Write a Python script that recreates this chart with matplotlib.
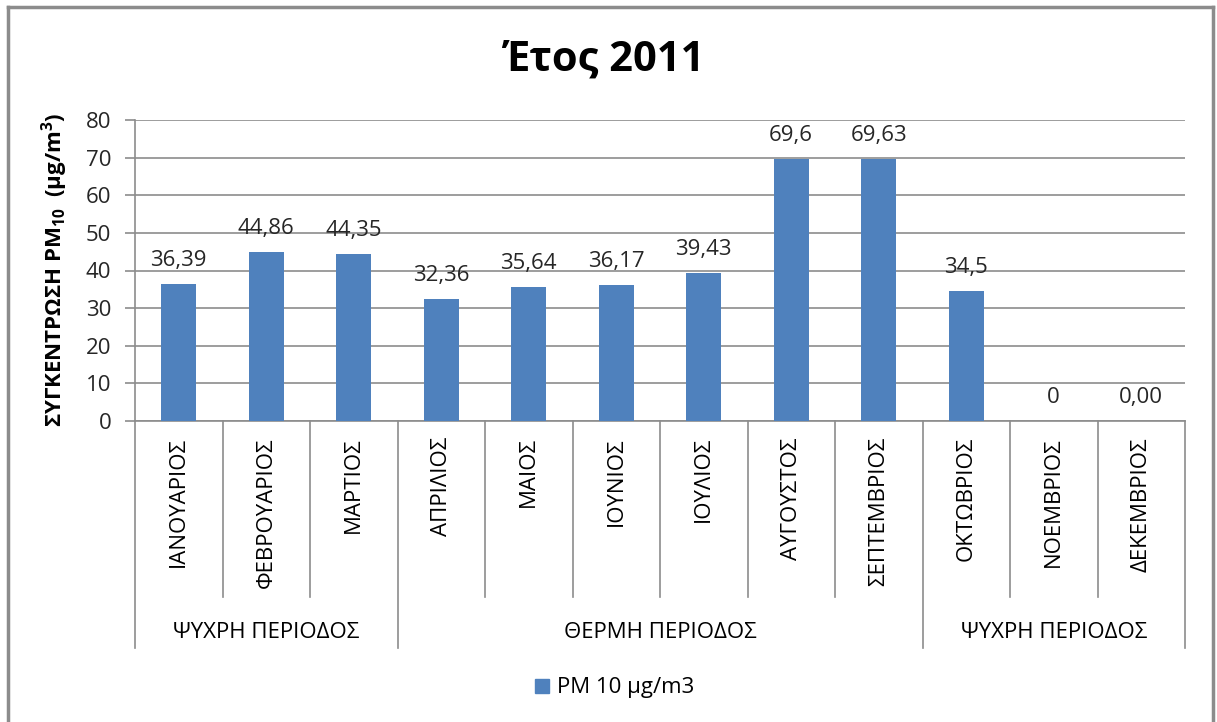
import matplotlib
matplotlib.use("Agg")
import matplotlib.pyplot as plt
import matplotlib.transforms as mtransforms
from matplotlib.lines import Line2D
from matplotlib.patches import Patch

plt.rcParams['font.family'] = ['Open Sans', 'DejaVu Sans']
plt.rcParams['mathtext.fontset'] = 'custom'
plt.rcParams['mathtext.rm'] = 'Open Sans'
plt.rcParams['mathtext.bf'] = 'Open Sans:bold'

# monthly PM10 concentration, 2011
months = ["ΙΑΝΟΥΑΡΙΟΣ", "ΦΕΒΡΟΥΑΡΙΟΣ", "ΜΑΡΤΙΟΣ", "ΑΠΡΙΛΙΟΣ", "ΜΑΙΟΣ", "ΙΟΥΝΙΟΣ",
          "ΙΟΥΛΙΟΣ", "ΑΥΓΟΥΣΤΟΣ", "ΣΕΠΤΕΜΒΡΙΟΣ", "ΟΚΤΩΒΡΙΟΣ", "ΝΟΕΜΒΡΙΟΣ", "ΔΕΚΕΜΒΡΙΟΣ"]
pm10 = [36.39, 44.86, 44.35, 32.36, 35.64, 36.17, 39.43, 69.6, 69.63, 34.5, 0, 0]
value_labels = ["36,39", "44,86", "44,35", "32,36", "35,64", "36,17", "39,43",
                "69,6", "69,63", "34,5", "0", "0,00"]
periods = ["ΨΥΧΡΗ ΠΕΡΙΟΔΟΣ", "ΘΕΡΜΗ ΠΕΡΙΟΔΟΣ", "ΨΥΧΡΗ ΠΕΡΙΟΔΟΣ"]
period_months = [3, 6, 3]
yticks = [0, 10, 20, 30, 40, 50, 60, 70, 80]

bar_color = "#4F81BD"
grid_color = "#8C8C8C"
text_color = "#262626"
fs = 16

W, H = 1217, 722
fig = plt.figure(figsize=(W / 100, H / 100), dpi=100)
fig.patch.set_facecolor("white")

ax = fig.add_axes([135 / W, 1 - 421 / H, 1050 / W, 301 / H])
x = list(range(len(months)))
ax.bar(x, pm10, width=0.4, color=bar_color, zorder=3)

for xi, v, lab in zip(x, pm10, value_labels):
    ax.annotate(lab, (xi, v), xytext=(0, 13), textcoords="offset points",
                ha="center", va="baseline", fontsize=fs, color=text_color)

ax.set_xlim(-0.5, len(months) - 0.5)
ax.set_ylim(0, 80)
ax.set_yticks(yticks)
ax.set_yticklabels([str(t) for t in yticks], fontsize=fs, color=text_color)
ax.yaxis.grid(True, color=grid_color, linewidth=1.2, zorder=0)
ax.set_xticks([])
ax.tick_params(axis="y", length=7, width=1.2, color=grid_color, pad=10)
for s in ["top", "right"]:
    ax.spines[s].set_visible(False)
for s in ["left", "bottom"]:
    ax.spines[s].set_color(grid_color)
    ax.spines[s].set_linewidth(1.2)

# category labels and separators below the axis
trans = mtransforms.blended_transform_factory(ax.transData, fig.transFigure)
for xi, m in zip(x, months):
    ax.text(xi, 1 - 437 / H, m, transform=trans, rotation=90, ha="center", va="top",
            fontsize=fs, color="black")

group_edges = [-0.5]
for n in period_months:
    group_edges.append(group_edges[-1] + n)

for b in range(len(months) + 1):
    edge = b - 0.5
    y_end = 648 if edge in group_edges else 597
    ax.add_line(Line2D([edge, edge], [1 - 421 / H, 1 - y_end / H], transform=trans,
                       color=grid_color, linewidth=1.2, clip_on=False))

for i, p in enumerate(periods):
    mid = (group_edges[i] + group_edges[i + 1]) / 2
    ax.text(mid, 1 - 632 / H, p, transform=trans, ha="center", va="center",
            fontsize=fs, color="black")

fig.text(0.497, 1 - 60 / H, "Έτος 2011", ha="center", va="center",
         fontsize=30, fontweight="bold", color="black")
fig.text(55 / W, 1 - 270 / H, r"ΣΥΓΚΕΝΤΡΩΣΗ PM$_{\mathbf{10}}$  (μg/m$^{\mathbf{3}}$)",
         rotation=90, ha="center", va="center", fontsize=16, fontweight="bold")

fig.legend(handles=[Patch(color=bar_color, label="PM 10 μg/m3")], loc="center",
           bbox_to_anchor=(615 / W, 1 - 688 / H), frameon=False, fontsize=fs,
           handlelength=0.6, handleheight=0.6, handletextpad=0.4)

# chart frame
border = dict(color="#8C8C8C", linewidth=2.5, transform=fig.transFigure)
fig.add_artist(Line2D([8 / W, 8 / W], [0, 1 - 7 / H], **border))
fig.add_artist(Line2D([8 / W, 1213 / W], [1 - 7 / H, 1 - 7 / H], **border))
fig.add_artist(Line2D([1213 / W, 1213 / W], [0, 1 - 7 / H], **border))

fig.savefig("out.png", dpi=100)
